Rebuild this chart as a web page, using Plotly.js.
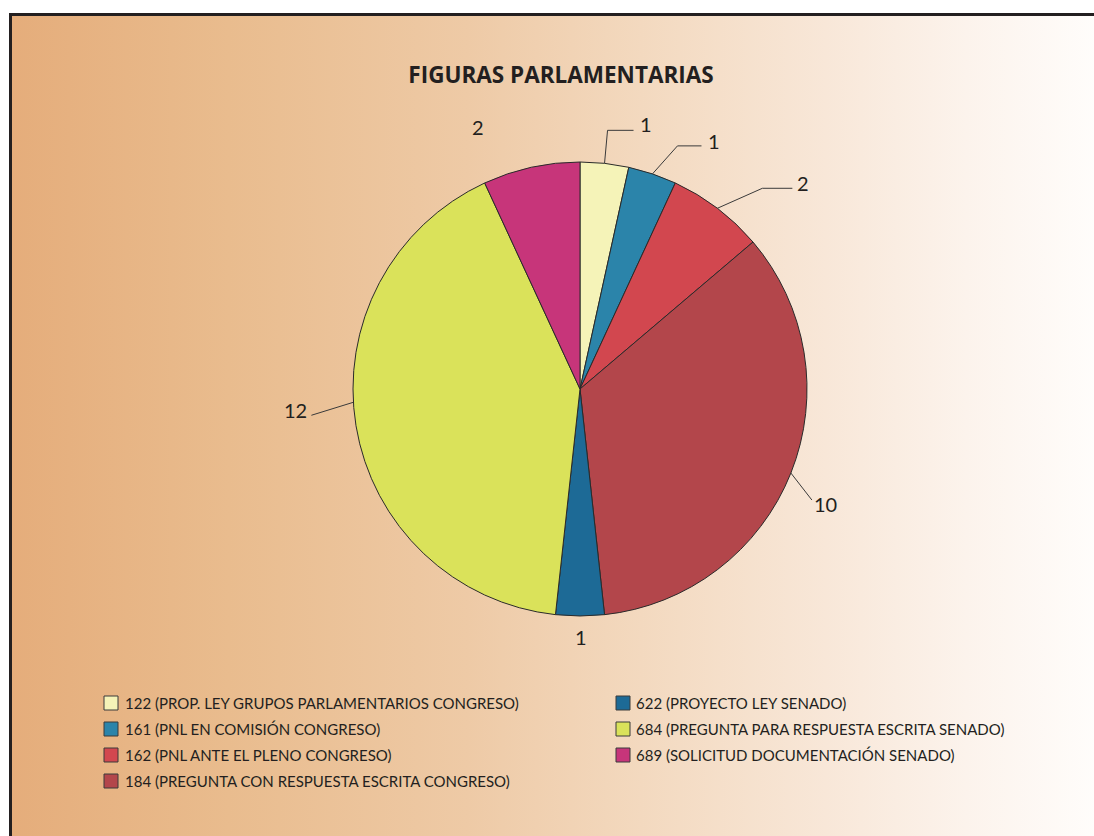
<!DOCTYPE html>
<html>
<head>
<meta charset="utf-8">
<script src="https://cdn.plot.ly/plotly-3.0.1.min.js"></script>
<style>
  html, body { margin:0; padding:0; background:#ffffff; }
  #frame { position:absolute; left:9px; top:13px; width:1085px; height:823px;
    border-left:3px solid #231f20; border-top:3px solid #231f20;
    background: linear-gradient(to right, #e5ad7b 0%, #e9bc8e 20%, #eecaa6 42%, #f3d9bf 58%, #f8e7d8 75%, #fcf3ec 88%, #fffdfb 100%); }
  #chart { position:absolute; left:0; top:0; width:1094px; height:836px; }
</style>
</head>
<body>
<div id="frame"></div>
<div id="chart"></div>
<script>
// ---- data ----
const codes = ["122", "161", "162", "184", "622", "684", "689"];
const names = [
  "122 (PROP. LEY GRUPOS PARLAMENTARIOS CONGRESO)",
  "161 (PNL EN COMISIÓN CONGRESO)",
  "162 (PNL ANTE EL PLENO CONGRESO)",
  "184 (PREGUNTA CON RESPUESTA ESCRITA CONGRESO)",
  "622 (PROYECTO LEY SENADO)",
  "684 (PREGUNTA PARA RESPUESTA ESCRITA SENADO)",
  "689 (SOLICITUD DOCUMENTACIÓN SENADO)"
];
const values = [1, 1, 2, 10, 1, 12, 2];
const colors = ["#f5f3b8", "#2b84aa", "#d2474f", "#b3464b", "#1d6a96", "#dae25a", "#c7357a"];

// ---- layout geometry (pixels) ----
const W = 1094, H = 836;
const cx = 580, cy = 389, R = 227;
const px = x => x / W;
const py = y => 1 - y / H;

// label placement style: fraction along slice, leader knee/end and text offsets from arc point
const labelStyle = [
  {pos:0.5, knee:[3,-33], end:[29,-33], text:[41,-39]},
  {pos:0.5, knee:[25,-28], end:[49,-28], text:[62,-33]},
  {pos:0.5, knee:[45,-20], end:[75,-20], text:[86,-25]},
  {pos:0.5, knee:null, end:[21,27], text:[35,31]},
  {pos:0.5, knee:null, end:null, text:[1,21]},
  {pos:0.54, knee:null, end:[-42,13], text:[-58,8]},
  {pos:0.5, knee:null, end:null, text:[-53,-40]}
];

const total = values.reduce((a, b) => a + b, 0);
const annotations = [];
const shapes = [];
let cum = 0;
values.forEach((v, i) => {
  const st = labelStyle[i];
  const frac = (cum + v * st.pos) / total;
  cum += v;
  const ang = frac * 2 * Math.PI;
  const ax = cx + R * Math.sin(ang);
  const ay = cy - R * Math.cos(ang);
  annotations.push({
    x: px(ax + st.text[0]), y: py(ay + st.text[1]), xref:'paper', yref:'paper',
    text: String(v), showarrow:false, xanchor:'center', yanchor:'middle',
    font:{family:'Lato, "Open Sans", sans-serif', size:20, color:'#231f20'}
  });
  if (st.end) {
    let path = `M ${px(ax)},${py(ay)}`;
    if (st.knee) path += ` L ${px(ax + st.knee[0])},${py(ay + st.knee[1])}`;
    path += ` L ${px(ax + st.end[0])},${py(ay + st.end[1])}`;
    shapes.push({type:'path', xref:'paper', yref:'paper', path:path,
      line:{color:'#3a3a3a', width:1}});
  }
});

// custom two-column legend (4 + 3 entries)
const legCols = [{box:104, text:123}, {box:616, text:634}];
const legRows = [703, 729, 755, 781];
names.forEach((n, i) => {
  const col = i < 4 ? 0 : 1;
  const row = i < 4 ? i : i - 4;
  const y = legRows[row];
  shapes.push({type:'rect', xref:'paper', yref:'paper',
    x0: px(legCols[col].box), x1: px(legCols[col].box + 14),
    y0: py(y + 7), y1: py(y - 7),
    fillcolor: colors[i], line:{color:'#3a3a3a', width:1}});
  annotations.push({x: px(legCols[col].text), y: py(y), xref:'paper', yref:'paper',
    text: n, showarrow:false, xanchor:'left', yanchor:'middle',
    font:{family:'Lato, "Open Sans", sans-serif', size:15, color:'#231f20'}});
});

const trace = {
  type:'pie', labels: names, values: values, sort:false, direction:'clockwise', rotation:0,
  marker:{colors: colors, line:{color:'#2a2a2a', width:1}},
  textinfo:'none', hoverinfo:'label+value', showlegend:false,
  domain:{x:[px(cx - R), px(cx + R)], y:[py(cy + R), py(cy - R)]}
};

const layout = {
  width: W, height: H,
  margin:{l:0, r:0, t:0, b:0},
  paper_bgcolor:'rgba(0,0,0,0)', plot_bgcolor:'rgba(0,0,0,0)',
  title:{text:'<b>FIGURAS PARLAMENTARIAS</b>', x: px(561), y: py(75), xanchor:'center', yanchor:'middle',
    font:{family:'"Open Sans", Lato, sans-serif', size:22.5, color:'#231f20'}},
  showlegend:false,
  annotations: annotations,
  shapes: shapes
};

Plotly.newPlot('chart', [trace], layout, {displayModeBar:false, staticPlot:true});
</script>
</body>
</html>
